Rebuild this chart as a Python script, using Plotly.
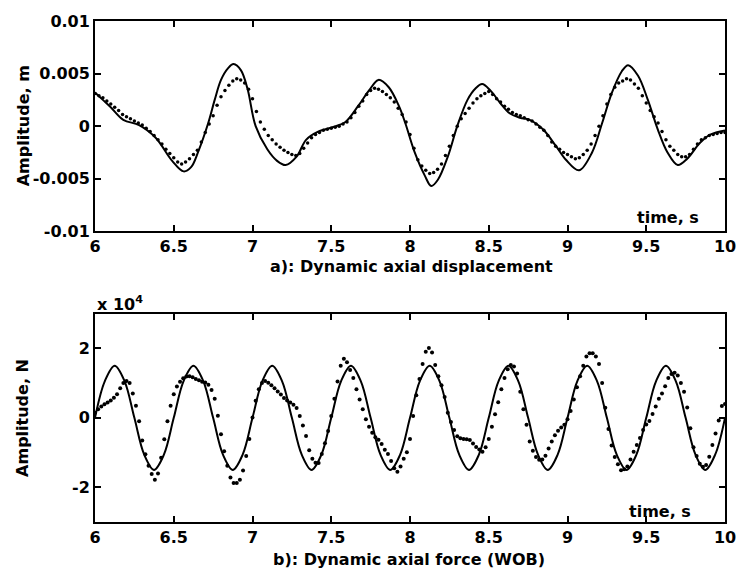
import numpy as np
import plotly.graph_objects as go

# ---------------- data ----------------
# a) dynamic axial displacement [m], dotted series sampled every 0.025 s
t_disp_dots = np.round(6 + 0.025 * np.arange(161), 3)
disp_dots = [
    0.0031, 0.0029, 0.0027, 0.0024, 0.0021, 0.0018, 0.0015, 0.0011,
    0.0009, 0.0007, 0.0005, 0.0003, 0.0001, -0.0002, -0.0005, -0.0009,
    -0.0013, -0.0017, -0.0022, -0.0026, -0.0030, -0.0034, -0.0036, -0.0034,
    -0.0031, -0.0027, -0.0023, -0.0015, -0.0006, 0.0002, 0.0010, 0.0020,
    0.0028, 0.0034, 0.0039, 0.0043, 0.0045, 0.0044, 0.0041, 0.0035,
    0.0026, 0.0014, 0.0004, -0.0003, -0.0009, -0.0013, -0.0017, -0.0020,
    -0.0023, -0.0025, -0.0027, -0.0028, -0.0026, -0.0021, -0.0016, -0.0011,
    -0.0008, -0.0006, -0.0004, -0.0003, -0.0002, -0.0001, 0.0000, 0.0002,
    0.0004, 0.0008, 0.0013, 0.0019, 0.0024, 0.0030, 0.0034, 0.0036,
    0.0035, 0.0033, 0.0030, 0.0027, 0.0023, 0.0017, 0.0011, 0.0004,
    -0.0008, -0.0021, -0.0032, -0.0038, -0.0042, -0.0045, -0.0044, -0.0041,
    -0.0036, -0.0028, -0.0019, -0.0009, 0.0000, 0.0007, 0.0012, 0.0017,
    0.0022, 0.0026, 0.0029, 0.0031, 0.0033, 0.0030, 0.0026, 0.0023,
    0.0019, 0.0016, 0.0013, 0.0011, 0.0010, 0.0008, 0.0006, 0.0005,
    0.0002, -0.0001, -0.0004, -0.0009, -0.0015, -0.0019, -0.0022, -0.0025,
    -0.0027, -0.0029, -0.0031, -0.0030, -0.0027, -0.0023, -0.0017, -0.0009,
    0.0000, 0.0010, 0.0021, 0.0030, 0.0037, 0.0041, 0.0043, 0.0045,
    0.0044, 0.0040, 0.0036, 0.0029, 0.0022, 0.0015, 0.0009, 0.0003,
    -0.0005, -0.0013, -0.0019, -0.0023, -0.0027, -0.0029, -0.0029, -0.0027,
    -0.0022, -0.0017, -0.0013, -0.0011, -0.0009, -0.0008, -0.0007, -0.0006,
    -0.0006,
]

# a) solid (model) curve, key points
t_disp_line = [
    6.00, 6.05, 6.10, 6.18, 6.28, 6.385, 6.49, 6.5625, 6.61, 6.656,
    6.719, 6.76, 6.80, 6.844, 6.88, 6.927, 6.969, 7.02, 7.094, 7.156,
    7.21, 7.28, 7.34, 7.42, 7.53, 7.59, 7.67, 7.74, 7.80, 7.865,
    7.93, 7.97, 8.03, 8.094, 8.135, 8.177, 8.24, 8.30, 8.365, 8.417,
    8.458, 8.51, 8.573, 8.635, 8.698, 8.76, 8.844, 8.927, 8.99, 9.073,
    9.156, 9.22, 9.28, 9.344, 9.385, 9.448, 9.51, 9.573, 9.635, 9.70,
    9.76, 9.84, 9.906, 10.0,
]
disp_line = [
    0.0032, 0.0025, 0.0018, 0.0006, 0.0001, -0.0011, -0.0033, -0.0043, -0.0039, -0.0024,
    0.0003, 0.0025, 0.0044, 0.0055, 0.0059, 0.0053, 0.0035, 0.0000, -0.0022, -0.0033,
    -0.0037, -0.0029, -0.0013, -0.0005, 0.0000, 0.0004, 0.0019, 0.0034, 0.0044, 0.0037,
    0.0019, 0.0003, -0.0025, -0.0047, -0.0057, -0.0051, -0.0029, 0.0000, 0.0025, 0.0036,
    0.0040, 0.0034, 0.0022, 0.0012, 0.0008, 0.0006, -0.0003, -0.0019, -0.0032, -0.0042,
    -0.0025, 0.0003, 0.0031, 0.0052, 0.0058, 0.0048, 0.0025, -0.0003, -0.0025, -0.0037,
    -0.0031, -0.0016, -0.0008, -0.0004,
]

# b) dynamic axial force [x 1e4 N], dotted series sampled every 0.02 s
t_force_dots = np.round(6 + 0.02 * np.arange(201), 2)
force_dots = [
    0.15, 0.25, 0.33, 0.39, 0.44, 0.50, 0.58, 0.68, 0.85, 1.00,
    1.06, 1.00, 0.70, 0.35, -0.10, -0.65, -1.05, -1.38, -1.62, -1.78,
    -1.60, -1.15, -0.62, -0.10, 0.35, 0.68, 0.90, 1.04, 1.14, 1.19,
    1.20, 1.17, 1.12, 1.08, 1.04, 1.02, 0.95, 0.80, 0.55, 0.06,
    -0.47, -0.96, -1.38, -1.72, -1.88, -1.88, -1.78, -1.52, -1.10, -0.61,
    0.01, 0.49, 0.82, 1.00, 1.06, 1.01, 0.94, 0.85, 0.76, 0.67,
    0.57, 0.50, 0.44, 0.38, 0.28, 0.05, -0.22, -0.52, -0.93, -1.18,
    -1.29, -1.30, -1.04, -0.73, -0.38, 0.05, 0.55, 1.05, 1.50, 1.70,
    1.60, 1.38, 1.15, 0.82, 0.53, 0.25, -0.04, -0.26, -0.43, -0.56,
    -0.63, -0.75, -0.92, -1.04, -1.24, -1.45, -1.55, -1.40, -1.18, -0.99,
    -0.61, 0.05, 0.65, 1.12, 1.55, 1.90, 2.01, 1.88, 1.52, 1.20,
    0.94, 0.60, 0.15, -0.12, -0.35, -0.53, -0.59, -0.61, -0.62, -0.64,
    -0.74, -0.84, -0.91, -0.98, -0.85, -0.61, -0.26, 0.10, 0.45, 0.82,
    1.15, 1.40, 1.52, 1.48, 1.28, 0.75, 0.25, -0.20, -0.68, -0.95,
    -1.13, -1.21, -1.20, -1.09, -0.88, -0.68, -0.50, -0.37, -0.28, -0.20,
    -0.04, 0.20, 0.53, 0.88, 1.20, 1.50, 1.77, 1.86, 1.86, 1.77,
    1.55, 1.00, 0.29, -0.32, -0.80, -1.13, -1.34, -1.51, -1.48, -1.40,
    -1.20, -0.98, -0.78, -0.58, -0.35, -0.19, -0.09, 0.11, 0.33, 0.55,
    0.70, 0.91, 1.15, 1.26, 1.30, 1.22, 1.00, 0.75, 0.30, -0.30,
    -0.85, -1.10, -1.32, -1.41, -1.36, -1.12, -0.78, -0.45, -0.08, 0.34,
    0.40,
]

# b) solid (model) curve, sampled every 0.0625 s
t_force_line = np.round(6 + 0.0625 * np.arange(65), 4)
force_line = [
    0.00, 1.06, 1.50, 1.06, 0.00, -1.06, -1.50, -1.06,
    0.00, 1.06, 1.50, 1.06, 0.00, -1.06, -1.50, -1.06,
    0.00, 1.06, 1.50, 1.06, 0.00, -1.06, -1.50, -1.06,
    0.00, 1.06, 1.50, 1.06, 0.00, -1.06, -1.50, -1.06,
    0.00, 1.06, 1.50, 1.06, 0.00, -1.06, -1.50, -1.06,
    0.00, 1.06, 1.50, 1.06, 0.00, -1.06, -1.50, -1.06,
    0.00, 1.06, 1.50, 1.06, 0.00, -1.06, -1.50, -1.06,
    0.00, 1.06, 1.50, 1.06, 0.00, -1.06, -1.50, -1.06,
    0.00,
]

x_ticks = [6, 6.5, 7, 7.5, 8, 8.5, 9, 9.5, 10]
x_tick_labels = ["6", "6.5", "7", "7.5", "8", "8.5", "9", "9.5", "10"]
disp_ticks = [-0.01, -0.005, 0, 0.005, 0.01]
disp_tick_labels = ["-0.01", "-0.005", "0", "0.005", "0.01"]
force_ticks = [-2, 0, 2]
force_tick_labels = ["-2", "0", "2"]

# ---------------- figure ----------------
FONT = "DejaVu Sans"
tick_font = dict(family=FONT, size=16, color="black", weight="bold")

fig = go.Figure()
fig.add_trace(go.Scatter(x=t_disp_line, y=disp_line, mode="lines",
                         line=dict(color="black", width=2, shape="spline", smoothing=1),
                         xaxis="x", yaxis="y"))
fig.add_trace(go.Scatter(x=t_disp_dots, y=disp_dots, mode="markers",
                         marker=dict(color="black", size=3.5),
                         xaxis="x", yaxis="y"))
fig.add_trace(go.Scatter(x=t_force_line, y=force_line, mode="lines",
                         line=dict(color="black", width=2, shape="spline", smoothing=1),
                         xaxis="x2", yaxis="y2"))
fig.add_trace(go.Scatter(x=t_force_dots, y=force_dots, mode="markers",
                         marker=dict(color="black", size=4),
                         xaxis="x2", yaxis="y2"))

axis_style = dict(showline=True, linecolor="black", linewidth=1.8, mirror="ticks",
                  ticks="inside", ticklen=6, tickwidth=1.5, tickcolor="black",
                  showgrid=False, zeroline=False, tickfont=tick_font)

fig.update_layout(
    width=748, height=575,
    margin=dict(l=95, r=14, t=17, b=53),
    paper_bgcolor="white", plot_bgcolor="white",
    showlegend=False,
    xaxis=dict(domain=[0, 1], anchor="y", range=[6, 10],
               tickvals=x_ticks, ticktext=x_tick_labels, **axis_style),
    yaxis=dict(domain=[0.5802, 1], anchor="x", range=[-0.01, 0.01],
               tickvals=disp_ticks, ticktext=disp_tick_labels, **axis_style),
    xaxis2=dict(domain=[0, 1], anchor="y2", range=[6, 10],
                tickvals=x_ticks, ticktext=x_tick_labels, **axis_style),
    yaxis2=dict(domain=[0, 0.4158], anchor="x2", range=[-3, 3],
                tickvals=force_ticks, ticktext=force_tick_labels, **axis_style),
)

ann_font = dict(family=FONT, size=16, color="black", weight="bold")
annotations = [
    dict(text="Amplitude, m", x=-0.1142, y=0.790, textangle=-90),
    dict(text="Amplitude, N", x=-0.1142, y=0.2079, textangle=-90),
    dict(text="time, s", x=0.909, y=0.608),
    dict(text="time, s", x=0.897, y=0.0218),
    dict(text="a): Dynamic axial displacement", x=0.502, y=0.509),
    dict(text="b): Dynamic axial force (WOB)", x=0.499, y=-0.075),
]
for a in annotations:
    fig.add_annotation(xref="paper", yref="paper", showarrow=False,
                       xanchor="center", yanchor="middle", font=ann_font, **a)
fig.add_annotation(xref="paper", yref="paper", showarrow=False,
                   text="x 10<sup>4</sup>", x=0.0, y=0.4356,
                   xanchor="left", yanchor="middle", font=ann_font)

fig.write_html("out.html")
